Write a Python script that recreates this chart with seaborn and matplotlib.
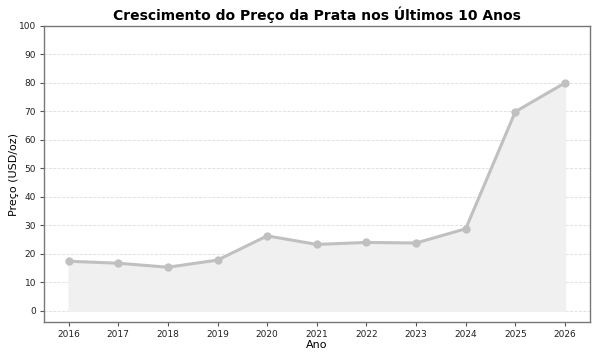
import numpy as np
import pandas as pd
import matplotlib

matplotlib.use('Agg')

import matplotlib.pyplot as plt
import seaborn as sns

sns.set_style("white")
plt.rcParams['font.family'] = ['DejaVu Sans']
plt.rcParams['text.color'] = 'black'
plt.rcParams['axes.labelcolor'] = 'black'
plt.rcParams['xtick.color'] = 'black'
plt.rcParams['ytick.color'] = 'black'

anos = [2016, 2017, 2018, 2019, 2020, 2021, 2022, 2023, 2024, 2025, 2026]
precos = [17.4, 16.7, 15.3, 17.8, 26.3, 23.3, 24.0, 23.8, 28.8, 69.9, 80.0]

df = pd.DataFrame({'Ano': anos, 'Preco': precos})

f, ax = plt.subplots(figsize=(6, 3.6), dpi=100)
ax.fill_between(df['Ano'], df['Preco'], color='#f0f0f0', zorder=1)
sns.lineplot(data=df, x='Ano', y='Preco', ax=ax, color='#c0c0c0',
             linewidth=2.2, marker='o', markersize=6, markeredgewidth=0, zorder=3)

ax.set_title('Crescimento do Preço da Prata nos Últimos 10 Anos',
             fontsize=10, fontweight='bold', color='black', pad=4)
ax.set_xlabel('Ano', fontsize=8, labelpad=1)
ax.set_ylabel('Preço (USD/oz)', fontsize=8)
ax.yaxis.set_label_coords(-0.045, 0.5)
ax.set_xticks(anos)
ax.set_yticks(range(0, 101, 10))
ax.tick_params(labelsize=6.5, length=3, pad=2.5, left=True, bottom=True,
               color='#555555', labelcolor='#222222')
ax.set_xlim(2015.5, 2026.5)
ax.set_ylim(-4, 100)
ax.grid(axis='y', linestyle='--', color='#dddddd', linewidth=0.6)
ax.set_axisbelow(True)
for s in ax.spines.values():
    s.set_color('#777777')
    s.set_linewidth(1)

plt.subplots_adjust(left=0.073, right=0.983, top=0.928, bottom=0.105)
plt.savefig('out.png')
